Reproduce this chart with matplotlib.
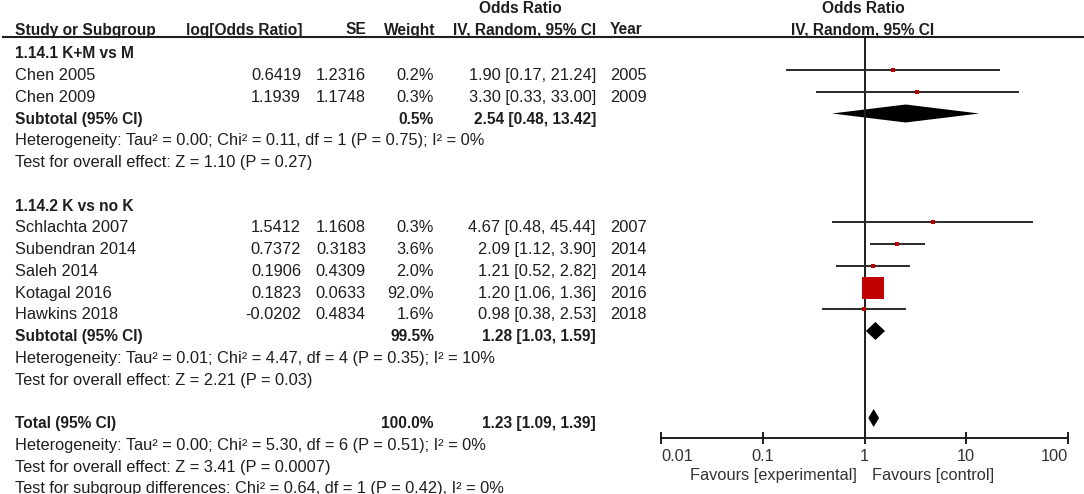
import matplotlib
matplotlib.use("Agg")
import matplotlib.pyplot as plt
from matplotlib.ticker import NullLocator

plt.rcParams['font.family'] = ['Liberation Sans', 'DejaVu Sans']

# study level data
studies = ["Chen 2005", "Chen 2009", "Schlachta 2007", "Subendran 2014",
           "Saleh 2014", "Kotagal 2016", "Hawkins 2018"]
groups = [0, 0, 1, 1, 1, 1, 1]
log_or = [0.6419, 1.1939, 1.5412, 0.7372, 0.1906, 0.1823, -0.0202]
se = [1.2316, 1.1748, 1.1608, 0.3183, 0.4309, 0.0633, 0.4834]
weight = [0.2, 0.3, 0.3, 3.6, 2.0, 92.0, 1.6]
odds = [1.90, 3.30, 4.67, 2.09, 1.21, 1.20, 0.98]
ci_lo = [0.17, 0.33, 0.48, 1.12, 0.52, 1.06, 0.38]
ci_hi = [21.24, 33.00, 45.44, 3.90, 2.82, 1.36, 2.53]
years = [2005, 2009, 2007, 2014, 2014, 2016, 2018]

# subgroups
group_titles = ["1.14.1 K+M vs M", "1.14.2 K vs no K"]
sub_weight = [0.5, 99.5]
sub_or = [2.54, 1.28]
sub_lo = [0.48, 1.03]
sub_hi = [13.42, 1.59]
sub_het = ["Heterogeneity: Tau\u00b2 = 0.00; Chi\u00b2 = 0.11, df = 1 (P = 0.75); I\u00b2 = 0%",
           "Heterogeneity: Tau\u00b2 = 0.01; Chi\u00b2 = 4.47, df = 4 (P = 0.35); I\u00b2 = 10%"]
sub_test = ["Test for overall effect: Z = 1.10 (P = 0.27)",
            "Test for overall effect: Z = 2.21 (P = 0.03)"]

# overall
total_weight = 100.0
total_or = 1.23
total_lo = 1.09
total_hi = 1.39
total_notes = ["Heterogeneity: Tau\u00b2 = 0.00; Chi\u00b2 = 5.30, df = 6 (P = 0.51); I\u00b2 = 0%",
               "Test for overall effect: Z = 3.41 (P = 0.0007)",
               "Test for subgroup differences: Chi\u00b2 = 0.64, df = 1 (P = 0.42), I\u00b2 = 0%"]

ticks = [0.01, 0.1, 1, 10, 100]
tick_labels = ["0.01", "0.1", "1", "10", "100"]

TXT = '#1e1e1e'
RED = '#c00000'
FS = 11.8
FSB = 11.2

W, H = 1084, 494
fig = plt.figure(figsize=(W / 100, H / 100), dpi=100)
bg = fig.add_axes([0, 0, 1, 1])
bg.set_xlim(0, W)
bg.set_ylim(H, 0)
bg.axis('off')

ax_top, ax_bot = 37, 438
fx = fig.add_axes([661 / W, (H - ax_bot) / H, 407 / W, (ax_bot - ax_top) / H])
fx.patch.set_alpha(0)
fx.set_xscale('log')
fx.set_xlim(0.01, 100)
fx.set_ylim(ax_bot, ax_top)
for s in ['top', 'left', 'right']:
    fx.spines[s].set_visible(False)
fx.spines['bottom'].set_linewidth(1.4)
fx.spines['bottom'].set_color(TXT)
fx.set_yticks([])
fx.set_xticks(ticks)
fx.set_xticklabels(tick_labels)
fx.xaxis.set_minor_locator(NullLocator())
fx.tick_params(axis='x', direction='inout', length=8, width=1.4, color=TXT,
               labelsize=FS, labelcolor='#333333', pad=4)
lbls = fx.get_xticklabels()
lbls[0].set_ha('left')
lbls[-1].set_ha('right')
fx.axvline(1, color=TXT, lw=1.4)


def row_y(i):
    return 48.25 + 21.75 * i


def base_y(i):
    return row_y(i) + 10


def put(x, i, s, ha='left', bold=False):
    bg.text(x, base_y(i), s, ha=ha, va='baseline', color=TXT,
            fontsize=FSB if bold else FS, fontweight='bold' if bold else 'normal')


def diamond(mid, lo, hi, y):
    fx.fill([lo, mid, hi, mid], [y, y - 9, y, y + 9], color='black', lw=0)


# header
bg.text(520, 13, "Odds Ratio", ha='center', va='baseline', fontsize=FSB, fontweight='bold', color=TXT)
bg.text(863, 13, "Odds Ratio", ha='center', va='baseline', fontsize=FSB, fontweight='bold', color=TXT)
for x, s, ha in [(15, "Study or Subgroup", 'left'), (302, "log[Odds Ratio]", 'right'),
                 (366, "SE", 'right'), (435, "Weight", 'right'),
                 (596, "IV, Random, 95% CI", 'right'), (610, "Year", 'left'),
                 (863, "IV, Random, 95% CI", 'center')]:
    bg.text(x, 34.5, s, ha=ha, va='baseline', fontsize=FSB, fontweight='bold', color=TXT)
bg.plot([2, W], [37, 37], color=TXT, lw=1.5, solid_capstyle='butt')

row = 0
for g in range(2):
    put(15, row, group_titles[g], bold=True)
    row += 1
    for k in range(len(studies)):
        if groups[k] != g:
            continue
        put(15, row, studies[k])
        put(301, row, f"{log_or[k]:.4f}", ha='right')
        put(366, row, f"{se[k]:.4f}", ha='right')
        put(434, row, f"{weight[k]:.1f}%", ha='right')
        put(596, row, f"{odds[k]:.2f} [{ci_lo[k]:.2f}, {ci_hi[k]:.2f}]", ha='right')
        put(610, row, str(years[k]))
        y = row_y(row)
        fx.plot([ci_lo[k], ci_hi[k]], [y, y], color='#2a2a2a', lw=1.4, solid_capstyle='butt')
        ms = max(2.4, 16.5 * (weight[k] / 92.0) ** 0.5)
        fx.plot([odds[k]], [y], marker='s', ms=ms, color=RED, mec=RED, mew=0, ls='none')
        row += 1
    put(15, row, "Subtotal (95% CI)", bold=True)
    put(434, row, f"{sub_weight[g]:.1f}%", ha='right', bold=True)
    put(596, row, f"{sub_or[g]:.2f} [{sub_lo[g]:.2f}, {sub_hi[g]:.2f}]", ha='right', bold=True)
    diamond(sub_or[g], sub_lo[g], sub_hi[g], row_y(row))
    row += 1
    put(15, row, sub_het[g])
    row += 1
    put(15, row, sub_test[g])
    row += 2

put(15, row, "Total (95% CI)", bold=True)
put(434, row, f"{total_weight:.1f}%", ha='right', bold=True)
put(596, row, f"{total_or:.2f} [{total_lo:.2f}, {total_hi:.2f}]", ha='right', bold=True)
diamond(total_or, total_lo, total_hi, row_y(row))
row += 1
for note in total_notes:
    put(15, row, note)
    row += 1

fx.text(0.845, 480, "Favours [experimental]", ha='right', va='baseline', fontsize=FS,
        color='#333333', clip_on=False)
fx.text(1.185, 480, "Favours [control]", ha='left', va='baseline', fontsize=FS,
        color='#333333', clip_on=False)

fig.savefig('out.png', dpi=100)
plt.close(fig)
